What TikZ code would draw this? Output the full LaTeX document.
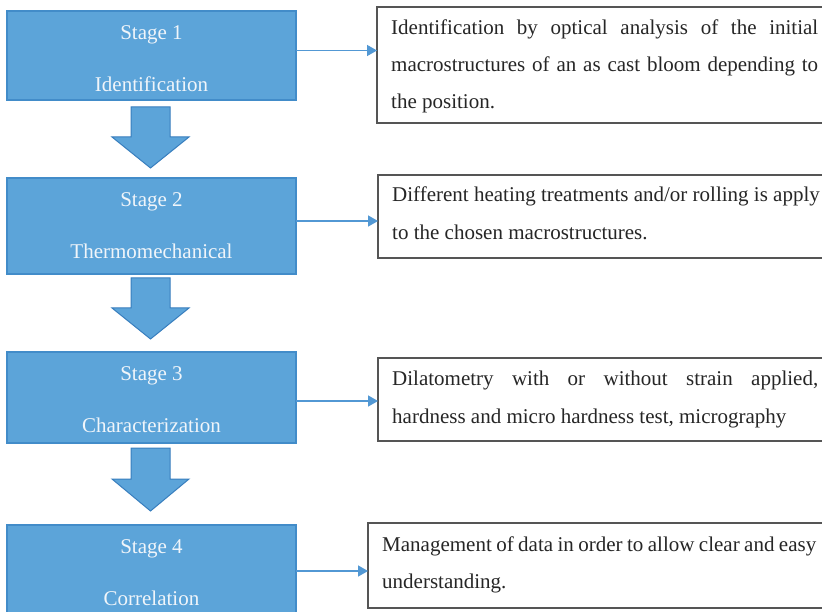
\documentclass[tikz,border=0pt]{standalone}
\usepackage{fontspec}
\setmainfont{Liberation Serif}
\usetikzlibrary{arrows.meta,calc}
\definecolor{stagefill}{RGB}{92,164,217}
\definecolor{stageborder}{RGB}{66,140,201}
\definecolor{arrowborder}{RGB}{56,126,190}
\definecolor{conncol}{RGB}{82,152,212}
\definecolor{descborder}{RGB}{85,85,85}
\definecolor{stagetextcol}{RGB}{240,245,250}
\begin{document}
\begin{tikzpicture}[x=1pt,y=-1pt,
  stagebox/.style={draw=stageborder,fill=stagefill,line width=1.2pt,anchor=north west,inner sep=0pt,outer sep=0pt,minimum width=289pt},
  stagetext/.style={text=stagetextcol,font=\fontsize{21}{25}\selectfont,anchor=base,inner sep=0pt},
  descbox/.style={draw=descborder,line width=1.4pt,anchor=north west,inner sep=0pt,outer sep=0pt,minimum width=449pt},
  desctext/.style={text=black!85,font=\fontsize{21}{25}\selectfont,anchor=base west,inner sep=0pt},
  blockarrow/.style={draw=arrowborder,fill=stagefill,line width=1pt,line join=miter},
  conn/.style={draw=conncol,line width=1.4pt,-{Triangle[length=10pt,width=11pt]}}
]
\useasboundingbox[fill=white] (0,0) rectangle (822,612);

% stage boxes
\node[stagebox,minimum height=89pt] (s1) at (7,11) {};
\node[stagebox,minimum height=96pt] (s2) at (7,178) {};
\node[stagebox,minimum height=91pt] (s3) at (7,352) {};
\node[stagebox,minimum height=100pt] (s4) at (7,525) {};

\node[stagetext] (s1a) at (151.5,40) {Stage 1};
\node[stagetext] (s1b) at (151.5,92) {Identification};
\node[stagetext] (s2a) at (151.5,207) {Stage 2};
\node[stagetext] (s2b) at (151.5,259) {Thermomechanical};
\node[stagetext] (s3a) at (151.5,380) {Stage 3};
\node[stagetext] (s3b) at (151.5,432) {Characterization};
\node[stagetext] (s4a) at (151.5,553) {Stage 4};
\node[stagetext] (s4b) at (151.5,605) {Correlation};

% block arrows
\draw[blockarrow] (131,107) -- (170,107) -- (170,137) -- (189,137) -- (150.5,168) -- (112,137) -- (131,137) -- cycle;
\draw[blockarrow] (131,278) -- (170,278) -- (170,308) -- (189,308) -- (150.5,339) -- (112,308) -- (131,308) -- cycle;
\draw[blockarrow] (131,448) -- (170,448) -- (170,479) -- (189,479) -- (150.5,511) -- (112,479) -- (131,479) -- cycle;

% description boxes
\node[descbox,minimum height=116pt] (d1) at (377,7) {};
\node[descbox,minimum height=83pt] (d2) at (378,175) {};
\node[descbox,minimum height=83pt] (d3) at (378,358) {};
\node[descbox,minimum height=85pt,minimum width=459pt] (d4) at (368,523) {};

\node[desctext] (d1a) at (391,35) {\hbox to 427pt{Identification by optical analysis of the initial}};
\node[desctext] (d1b) at (391,72) {\hbox to 427pt{macrostructures of an as cast bloom depending to}};
\node[desctext] (d1c) at (391,109) {the position.};
\node[desctext] (d2a) at (392,202) {Different heating treatments and/or rolling is apply};
\node[desctext] (d2b) at (392,240) {to the chosen macrostructures.};
\node[desctext] (d3a) at (392,385) {\hbox to 426pt{Dilatometry with or without strain applied,}};
\node[desctext] (d3b) at (392,423) {hardness and micro hardness test, micrography};
\node[desctext] (d4a) at (382,551) {\hbox to 434pt{Management of data in order to allow clear and easy}};
\node[desctext] (d4b) at (382,588) {understanding.};

% connectors
\coordinate (c1) at ([yshift=5pt]s1.east);
\coordinate (c2) at ([yshift=5pt]s2.east);
\coordinate (c3) at ([yshift=-3.5pt]s3.east);
\coordinate (c4) at ([yshift=4pt]s4.east);
\draw[conn] (c1) -- (c1 -| d1.west);
\draw[conn] (c2) -- (c2 -| d2.west);
\draw[conn] (c3) -- (c3 -| d3.west);
\draw[conn] (c4) -- (c4 -| d4.west);
\end{tikzpicture}
\end{document}
